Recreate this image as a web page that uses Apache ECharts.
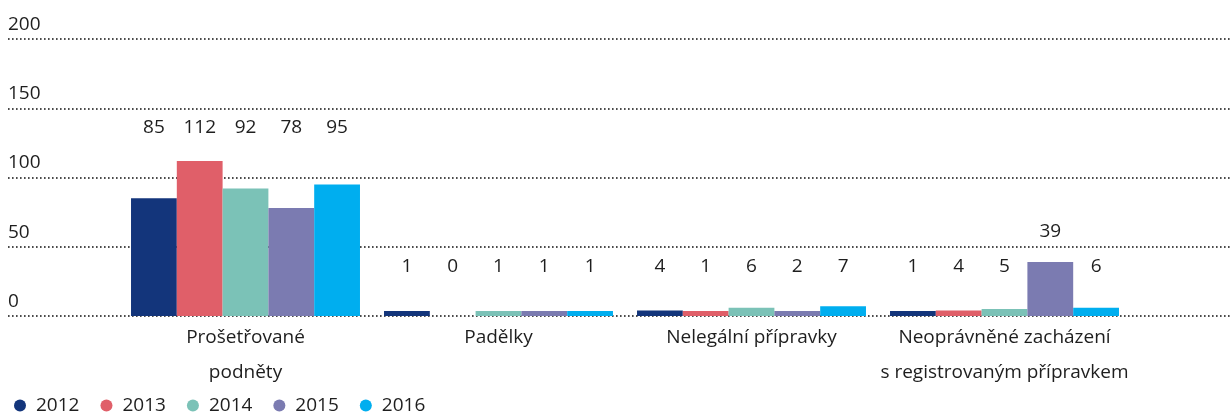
<!DOCTYPE html>
<html>
<head>
<meta charset="utf-8">
<script src="https://cdn.jsdelivr.net/npm/echarts@6/dist/echarts.min.js"></script>
<style>
html,body{margin:0;padding:0;background:#fff;}
#chart{width:1231px;height:412px;}
</style>
</head>
<body>
<div id="chart"></div>
<script>
var categories = ['Prošetřované\npodněty', 'Padělky', 'Nelegální přípravky', 'Neoprávněné zacházení\ns registrovaným přípravkem'];
var years = ['2012', '2013', '2014', '2015', '2016'];
var v2012 = [85, 1, 4, 1];
var v2013 = [112, 0, 1, 4];
var v2014 = [92, 1, 6, 5];
var v2015 = [78, 1, 2, 39];
var v2016 = [95, 1, 7, 6];
var yTicks = [0, 50, 100, 150, 200];

var seriesValues = [v2012, v2013, v2014, v2015, v2016];
var colors = ['#13357B', '#E05F69', '#7BC2B7', '#7B7BB1', '#00AEEF'];
var FONT = "'Open Sans', 'Noto Sans', sans-serif";
var TXT = '#1e1e1e';
var FS = 19;
// label row (pixel) per category
var labelRow = [128, 267, 267, 267];

var chart = echarts.init(document.getElementById('chart'));

var series = seriesValues.map(function (vals, i) {
  return {
    name: years[i],
    type: 'bar',
    xAxisIndex: 1,
    yAxisIndex: 1,
    barGap: '0%',
    barCategoryGap: '9.5%',
    barMinHeight: 5,
    itemStyle: { color: colors[i] },
    data: vals.map(function (v) {
      return v === 0 ? { value: v, itemStyle: { color: 'rgba(0,0,0,0)' } } : v;
    }),
    label: {
      show: true,
      position: 'top',
      color: TXT,
      fontFamily: FONT,
      fontSize: FS
    },
    labelLayout: function (p) {
      var y = Math.min(labelRow[p.dataIndex], p.rect.y - 30);
      return { x: p.rect.x + p.rect.width / 2, y: y, align: 'center', verticalAlign: 'middle' };
    }
  };
});

chart.setOption({
  animation: false,
  color: colors,
  grid: [
    { left: 8, right: 1, top: 39, bottom: 96 },
    { left: 119, right: 100, top: 39, bottom: 96 }
  ],
  legend: {
    data: years,
    left: 9,
    top: 391,
    icon: 'circle',
    itemWidth: 12,
    itemHeight: 12,
    itemGap: 21,
    textStyle: { color: TXT, fontFamily: FONT, fontSize: FS, padding: [0, 0, 0, 5] }
  },
  xAxis: [
    { type: 'value', gridIndex: 0, show: false, min: 0, max: 1 },
    {
      type: 'category',
      gridIndex: 1,
      data: categories,
      axisLine: { show: false },
      axisTick: { show: false },
      axisLabel: { color: TXT, fontFamily: FONT, fontSize: FS, lineHeight: 35, margin: 4, interval: 0 }
    }
  ],
  yAxis: [
    {
      type: 'value',
      gridIndex: 0,
      min: yTicks[0],
      max: yTicks[yTicks.length - 1],
      interval: 50,
      axisLine: { show: false },
      axisTick: { show: false },
      axisLabel: {
        inside: true,
        margin: 0,
        color: TXT,
        fontFamily: FONT,
        fontSize: FS,
        verticalAlign: 'bottom',
        padding: [0, 0, 5, 0]
      },
      splitLine: { show: true, lineStyle: { color: '#111111', width: 1.6, type: [1.6, 2.4] } }
    },
    {
      type: 'value',
      gridIndex: 1,
      min: yTicks[0],
      max: yTicks[yTicks.length - 1],
      interval: 50,
      show: false,
      splitLine: { show: false }
    }
  ],
  series: series
});
</script>
</body>
</html>
